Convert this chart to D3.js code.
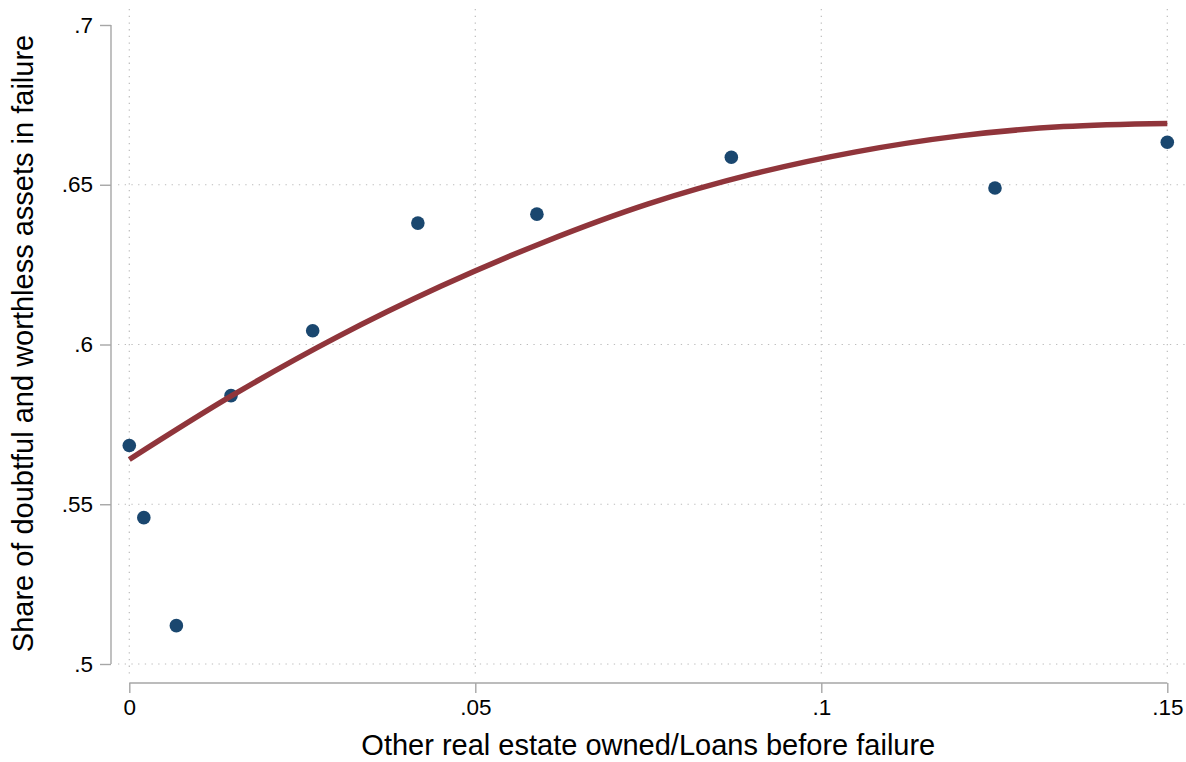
<!DOCTYPE html>
<html>
<head>
<meta charset="utf-8">
<script src="https://cdn.jsdelivr.net/npm/d3@7"></script>
<style>
  html, body { margin: 0; padding: 0; background: #fff; }
  svg { display: block; font-family: "Liberation Sans", Arial, sans-serif; }
</style>
</head>
<body>
<svg id="chart" width="1186" height="762"></svg>
<script>
// Binned scatter: OREO/Loans vs. share of doubtful and worthless assets
const binX = [0, 0.0021, 0.0068, 0.0147, 0.0265, 0.0417, 0.0589, 0.0870, 0.1251, 0.15];
const binY = [0.5684, 0.5458, 0.5120, 0.5840, 0.6043, 0.6380, 0.6408, 0.6586, 0.6490, 0.6633];

// Quadratic fit line, sampled along the x range
const fitX = [0, 0.015, 0.03, 0.045, 0.06, 0.075, 0.09, 0.105, 0.12, 0.135, 0.15];
const fitY = [0.5640, 0.5842, 0.6023, 0.6182, 0.6321, 0.6440, 0.6533, 0.6603, 0.6653, 0.6682, 0.6692];

const xTicks = [0, 0.05, 0.1, 0.15];
const xTickLabels = ["0", ".05", ".1", ".15"];
const yTicks = [0.5, 0.55, 0.6, 0.65, 0.7];
const yTickLabels = [".5", ".55", ".6", ".65", ".7"];
const yGrid = [0.5, 0.55, 0.6, 0.65];

const xTitle = "Other real estate owned/Loans before failure";
const yTitle = "Share of doubtful and worthless assets in failure";

const svg = d3.select("#chart");

const x = d3.scaleLinear().domain([0, 0.15]).range([129.3, 1167.3]);
const y = d3.scaleLinear().domain([0.5, 0.7]).range([664, 25]);

// plot region bounds used by the grid
const plotLeft = 118, plotRight = 1185, plotTop = 9, plotBottom = 677;

const gridColor = "#bcbcbc";
const axisColor = "#a6a6a6";

// grid lines
svg.append("g").selectAll("line.hg").data(yGrid).join("line")
  .attr("x1", plotLeft).attr("x2", plotRight)
  .attr("y1", d => y(d)).attr("y2", d => y(d))
  .attr("stroke", gridColor).attr("stroke-width", 1.2)
  .attr("stroke-dasharray", "1.3,5.4");

svg.append("g").selectAll("line.vg").data(xTicks).join("line")
  .attr("x1", d => x(d)).attr("x2", d => x(d))
  .attr("y1", plotTop).attr("y2", plotBottom)
  .attr("stroke", gridColor).attr("stroke-width", 1.2)
  .attr("stroke-dasharray", "1.3,5.4");

// y axis
const yAxis = d3.axisLeft(y).tickValues(yTicks)
  .tickFormat((d, i) => yTickLabels[i]).tickSize(11).tickPadding(7);
const gy = svg.append("g").attr("transform", "translate(111,0)").call(yAxis);
gy.select(".domain").attr("stroke", axisColor).attr("stroke-width", 1.4)
  .attr("d", `M0,${y(0.7)}V${y(0.5)}`);
gy.selectAll(".tick line").attr("stroke", axisColor).attr("stroke-width", 1.4);
gy.selectAll(".tick text").attr("font-size", 22.5).attr("fill", "#000")
  .attr("font-family", "Liberation Sans, Arial, sans-serif");

// x axis
const xAxis = d3.axisBottom(x).tickValues(xTicks)
  .tickFormat((d, i) => xTickLabels[i]).tickSize(10).tickPadding(6);
const gx = svg.append("g").attr("transform", "translate(0,683)").call(xAxis);
gx.select(".domain").attr("stroke", axisColor).attr("stroke-width", 1.4)
  .attr("d", `M${x(0)},0H${x(0.15)}`);
gx.selectAll(".tick line").attr("stroke", axisColor).attr("stroke-width", 1.4);
gx.selectAll(".tick text").attr("font-size", 22.5).attr("fill", "#000")
  .attr("font-family", "Liberation Sans, Arial, sans-serif");

// axis titles
svg.append("text")
  .attr("x", (x(0) + x(0.15)) / 2).attr("y", 755)
  .attr("text-anchor", "middle").attr("font-size", 29).attr("fill", "#000")
  .text(xTitle);

svg.append("text")
  .attr("transform", `translate(33,343.5) rotate(-90)`)
  .attr("text-anchor", "middle").attr("font-size", 29).attr("fill", "#000")
  .text(yTitle);

// scatter points
const pts = binX.map((d, i) => ({ x: d, y: binY[i] }));
svg.append("g").selectAll("circle").data(pts).join("circle")
  .attr("cx", d => x(d.x)).attr("cy", d => y(d.y)).attr("r", 6.8)
  .attr("fill", "#1a476f");

// fitted curve
const fit = fitX.map((d, i) => ({ x: d, y: fitY[i] }));
svg.append("path").datum(fit)
  .attr("d", d3.line().x(d => x(d.x)).y(d => y(d.y)).curve(d3.curveCatmullRom))
  .attr("fill", "none").attr("stroke", "#90353b").attr("stroke-width", 5.5);
</script>
</body>
</html>
